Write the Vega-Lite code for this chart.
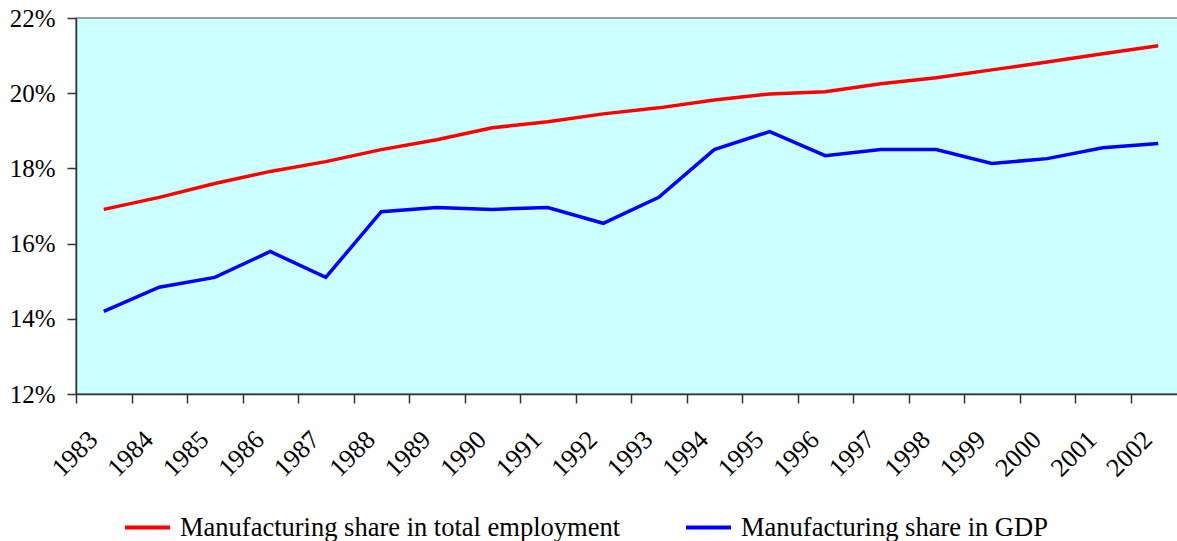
{
  "$schema": "https://vega.github.io/schema/vega-lite/v6.json",
  "autosize": {"type": "none"},
  "padding": {"left": 76, "top": 18, "right": 0, "bottom": 147},
  "width": 1110,
  "height": 376,
  "config": {
    "font": "Liberation Serif",
    "view": {"fill": "#ccffff", "stroke": "#808080", "strokeWidth": 1.5},
    "axis": {"labelFont": "Liberation Serif", "labelFontSize": 25, "labelColor": "#000000", "domainColor": "#333333", "tickColor": "#333333", "domainWidth": 1.5, "tickWidth": 1.5, "tickSize": 9, "grid": false, "title": null},
    "legend": {"labelFont": "Liberation Serif", "labelFontSize": 26.5, "labelColor": "#000000", "labelLimit": 1000}
  },
  "data": {
    "values": [
      {"year": "1983", "series": "Manufacturing share in total employment", "value": 0.1691},
      {"year": "1984", "series": "Manufacturing share in total employment", "value": 0.1723},
      {"year": "1985", "series": "Manufacturing share in total employment", "value": 0.1760},
      {"year": "1986", "series": "Manufacturing share in total employment", "value": 0.1792},
      {"year": "1987", "series": "Manufacturing share in total employment", "value": 0.1818},
      {"year": "1988", "series": "Manufacturing share in total employment", "value": 0.1850},
      {"year": "1989", "series": "Manufacturing share in total employment", "value": 0.1876},
      {"year": "1990", "series": "Manufacturing share in total employment", "value": 0.1908},
      {"year": "1991", "series": "Manufacturing share in total employment", "value": 0.1924},
      {"year": "1992", "series": "Manufacturing share in total employment", "value": 0.1945},
      {"year": "1993", "series": "Manufacturing share in total employment", "value": 0.1961},
      {"year": "1994", "series": "Manufacturing share in total employment", "value": 0.1982},
      {"year": "1995", "series": "Manufacturing share in total employment", "value": 0.1998},
      {"year": "1996", "series": "Manufacturing share in total employment", "value": 0.2004},
      {"year": "1997", "series": "Manufacturing share in total employment", "value": 0.2025},
      {"year": "1998", "series": "Manufacturing share in total employment", "value": 0.2041},
      {"year": "1999", "series": "Manufacturing share in total employment", "value": 0.2062},
      {"year": "2000", "series": "Manufacturing share in total employment", "value": 0.2083},
      {"year": "2001", "series": "Manufacturing share in total employment", "value": 0.2105},
      {"year": "2002", "series": "Manufacturing share in total employment", "value": 0.2126},
      {"year": "1983", "series": "Manufacturing share in GDP", "value": 0.1420},
      {"year": "1984", "series": "Manufacturing share in GDP", "value": 0.1484},
      {"year": "1985", "series": "Manufacturing share in GDP", "value": 0.1510},
      {"year": "1986", "series": "Manufacturing share in GDP", "value": 0.1579},
      {"year": "1987", "series": "Manufacturing share in GDP", "value": 0.1510},
      {"year": "1988", "series": "Manufacturing share in GDP", "value": 0.1685},
      {"year": "1989", "series": "Manufacturing share in GDP", "value": 0.1696},
      {"year": "1990", "series": "Manufacturing share in GDP", "value": 0.1691},
      {"year": "1991", "series": "Manufacturing share in GDP", "value": 0.1696},
      {"year": "1992", "series": "Manufacturing share in GDP", "value": 0.1654},
      {"year": "1993", "series": "Manufacturing share in GDP", "value": 0.1723},
      {"year": "1994", "series": "Manufacturing share in GDP", "value": 0.1850},
      {"year": "1995", "series": "Manufacturing share in GDP", "value": 0.1898},
      {"year": "1996", "series": "Manufacturing share in GDP", "value": 0.1834},
      {"year": "1997", "series": "Manufacturing share in GDP", "value": 0.1850},
      {"year": "1998", "series": "Manufacturing share in GDP", "value": 0.1850},
      {"year": "1999", "series": "Manufacturing share in GDP", "value": 0.1813},
      {"year": "2000", "series": "Manufacturing share in GDP", "value": 0.1826},
      {"year": "2001", "series": "Manufacturing share in GDP", "value": 0.1855},
      {"year": "2002", "series": "Manufacturing share in GDP", "value": 0.1866}
    ]
  },
  "mark": {"type": "line", "strokeWidth": 3.5},
  "encoding": {
    "x": {
      "field": "year",
      "type": "ordinal",
      "scale": {"type": "band", "paddingInner": 0, "paddingOuter": 0},
      "axis": {"labelAngle": -45, "tickBand": "extent", "labelPadding": 23, "labelOffset": -20, "labelFontSize": 26}
    },
    "y": {
      "field": "value",
      "type": "quantitative",
      "scale": {"domain": [0.12, 0.22], "nice": false, "zero": false},
      "axis": {"values": [0.12, 0.14, 0.16, 0.18, 0.20, 0.22], "format": ".0%", "labelPadding": 12}
    },
    "color": {
      "field": "series",
      "type": "nominal",
      "sort": ["Manufacturing share in total employment", "Manufacturing share in GDP"],
      "scale": {"domain": ["Manufacturing share in total employment", "Manufacturing share in GDP"], "range": ["#ff0000", "#0000ff"]},
      "legend": {
        "title": null,
        "orient": "none",
        "direction": "horizontal",
        "legendX": 47,
        "legendY": 485,
        "symbolType": "stroke",
        "symbolSize": 2025,
        "symbolStrokeWidth": 4,
        "labelOffset": 8,
        "columnPadding": 57
      }
    }
  }
}
